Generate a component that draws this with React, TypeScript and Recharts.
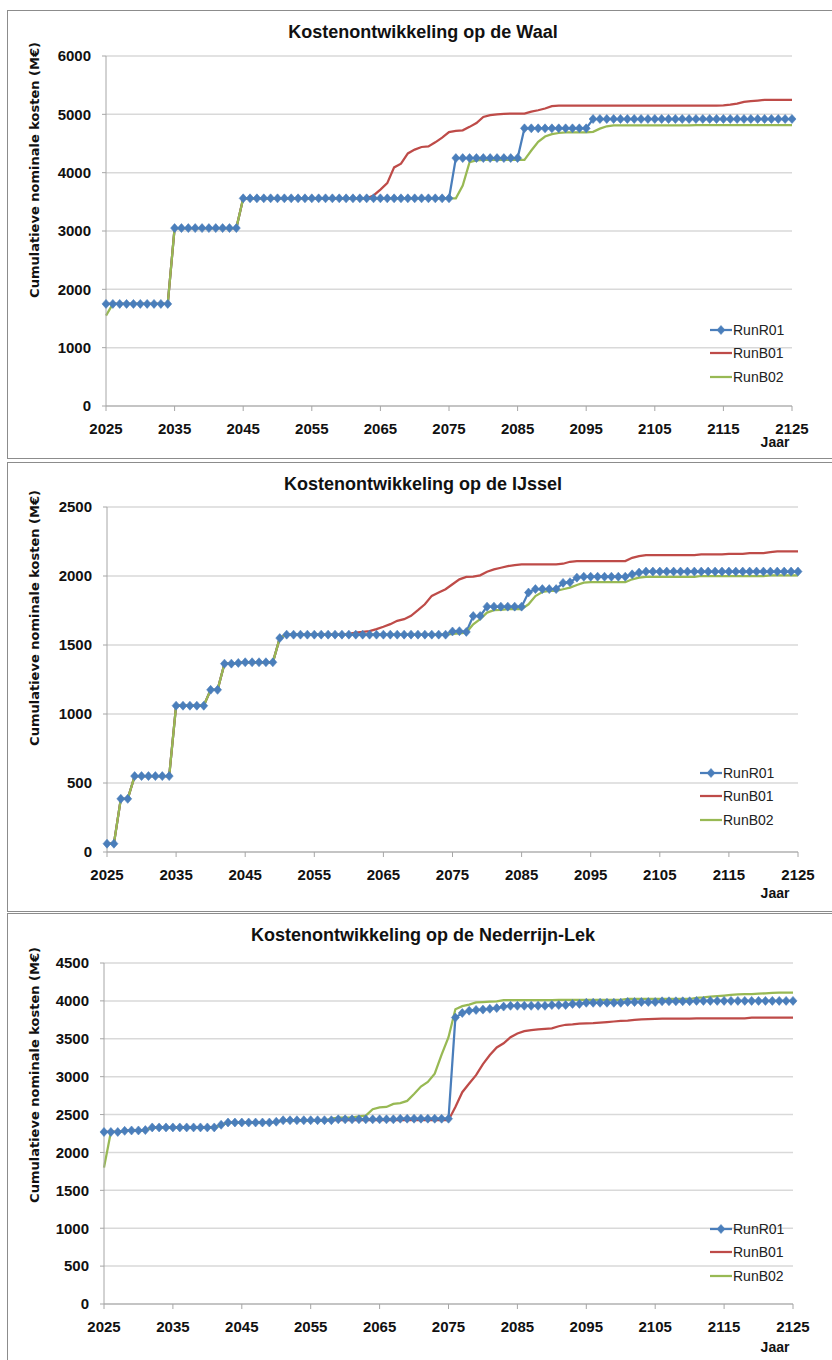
import React from "react";
import { LineChart, Line, XAxis, YAxis, CartesianGrid, Legend } from "recharts";

// jaren 2025 t/m 2125
const years = [
  2025, 2026, 2027, 2028, 2029, 2030, 2031, 2032, 2033, 2034,
  2035, 2036, 2037, 2038, 2039, 2040, 2041, 2042, 2043, 2044,
  2045, 2046, 2047, 2048, 2049, 2050, 2051, 2052, 2053, 2054,
  2055, 2056, 2057, 2058, 2059, 2060, 2061, 2062, 2063, 2064,
  2065, 2066, 2067, 2068, 2069, 2070, 2071, 2072, 2073, 2074,
  2075, 2076, 2077, 2078, 2079, 2080, 2081, 2082, 2083, 2084,
  2085, 2086, 2087, 2088, 2089, 2090, 2091, 2092, 2093, 2094,
  2095, 2096, 2097, 2098, 2099, 2100, 2101, 2102, 2103, 2104,
  2105, 2106, 2107, 2108, 2109, 2110, 2111, 2112, 2113, 2114,
  2115, 2116, 2117, 2118, 2119, 2120, 2121, 2122, 2123, 2124,
  2125,
];
const xTicks = [2025, 2035, 2045, 2055, 2065, 2075, 2085, 2095, 2105, 2115, 2125];

const waalTicks = [0, 1000, 2000, 3000, 4000, 5000, 6000];
const ijsselTicks = [0, 500, 1000, 1500, 2000, 2500];
const lekTicks = [0, 500, 1000, 1500, 2000, 2500, 3000, 3500, 4000, 4500];

// Waal
const waalR01 = [
  1750, 1750, 1750, 1750, 1750, 1750, 1750, 1750, 1750, 1750,
  3050, 3050, 3050, 3050, 3050, 3050, 3050, 3050, 3050, 3050,
  3560, 3560, 3560, 3560, 3560, 3560, 3560, 3560, 3560, 3560,
  3560, 3560, 3560, 3560, 3560, 3560, 3560, 3560, 3560, 3560,
  3560, 3560, 3560, 3560, 3560, 3560, 3560, 3560, 3560, 3560,
  3560, 4250, 4250, 4250, 4250, 4250, 4250, 4250, 4250, 4250,
  4250, 4760, 4760, 4760, 4760, 4760, 4760, 4760, 4760, 4760,
  4760, 4920, 4920, 4920, 4920, 4920, 4920, 4920, 4920, 4920,
  4920, 4920, 4920, 4920, 4920, 4920, 4920, 4920, 4920, 4920,
  4920, 4920, 4920, 4920, 4920, 4920, 4920, 4920, 4920, 4920,
  4920,
];
const waalB01 = [
  1750, 1750, 1750, 1750, 1750, 1750, 1750, 1750, 1750, 1750,
  3050, 3050, 3050, 3050, 3050, 3050, 3050, 3050, 3050, 3050,
  3560, 3560, 3560, 3560, 3560, 3560, 3560, 3560, 3560, 3560,
  3560, 3560, 3560, 3560, 3560, 3560, 3560, 3560, 3560, 3610,
  3710, 3820, 4090, 4155, 4330, 4395, 4440, 4450, 4520, 4600,
  4695, 4715, 4725, 4785, 4850, 4955, 4985, 5000, 5008, 5012,
  5012, 5012, 5045, 5070, 5100, 5140, 5150, 5150, 5150, 5150,
  5150, 5150, 5150, 5150, 5150, 5150, 5150, 5150, 5150, 5150,
  5150, 5150, 5150, 5150, 5150, 5150, 5150, 5150, 5150, 5150,
  5155, 5165, 5185, 5215, 5225, 5237, 5248, 5248, 5248, 5248,
  5248,
];
const waalB02 = [
  1550, 1750, 1750, 1750, 1750, 1750, 1750, 1750, 1750, 1750,
  3050, 3050, 3050, 3050, 3050, 3050, 3050, 3050, 3050, 3050,
  3560, 3560, 3560, 3560, 3560, 3560, 3560, 3560, 3560, 3560,
  3560, 3560, 3560, 3560, 3560, 3560, 3560, 3560, 3560, 3560,
  3560, 3560, 3560, 3560, 3560, 3560, 3560, 3560, 3560, 3560,
  3560, 3560, 3780, 4180, 4210, 4220, 4220, 4220, 4220, 4220,
  4220, 4220, 4380, 4530, 4620, 4660, 4680, 4690, 4690, 4690,
  4690, 4700, 4755, 4795, 4810, 4810, 4810, 4810, 4810, 4810,
  4810, 4810, 4810, 4810, 4810, 4810, 4815, 4815, 4815, 4815,
  4815, 4815, 4815, 4815, 4815, 4815, 4815, 4815, 4815, 4815,
  4815,
];

// IJssel
const ijsselR01 = [
  60, 60, 385, 385, 550, 550, 550, 550, 550, 550,
  1060, 1060, 1060, 1060, 1060, 1175, 1175, 1365, 1365, 1370,
  1375, 1375, 1375, 1375, 1375, 1550, 1575, 1575, 1575, 1575,
  1575, 1575, 1575, 1575, 1575, 1575, 1575, 1575, 1575, 1575,
  1575, 1575, 1575, 1575, 1575, 1575, 1575, 1575, 1575, 1575,
  1598, 1600, 1595, 1710, 1710, 1778, 1778, 1778, 1778, 1778,
  1778, 1880, 1905, 1905, 1905, 1905, 1950, 1955, 1988, 1995,
  1995, 1995, 1995, 1995, 1995, 1995, 2012, 2025, 2032, 2032,
  2032, 2032, 2032, 2032, 2032, 2032, 2032, 2032, 2032, 2032,
  2032, 2032, 2032, 2032, 2032, 2032, 2032, 2032, 2032, 2032,
  2032,
];
const ijsselB01 = [
  60, 60, 385, 385, 550, 550, 550, 550, 550, 550,
  1060, 1060, 1060, 1060, 1060, 1175, 1175, 1365, 1365, 1370,
  1375, 1375, 1375, 1375, 1375, 1550, 1575, 1575, 1575, 1575,
  1575, 1575, 1575, 1575, 1575, 1580, 1590, 1595, 1600, 1615,
  1632, 1651, 1675, 1687, 1711, 1752, 1795, 1856, 1880, 1904,
  1940, 1976, 1993, 1995, 2005, 2031, 2048, 2060, 2072, 2079,
  2084, 2084, 2084, 2084, 2084, 2084, 2089, 2103, 2108, 2108,
  2108, 2108, 2108, 2108, 2108, 2108, 2132, 2144, 2152, 2152,
  2152, 2152, 2152, 2152, 2152, 2152, 2156, 2156, 2156, 2156,
  2161, 2161, 2161, 2166, 2166, 2166, 2173, 2178, 2178, 2178,
  2178,
];
const ijsselB02 = [
  60, 60, 385, 385, 550, 550, 550, 550, 550, 550,
  1060, 1060, 1060, 1060, 1060, 1175, 1175, 1365, 1365, 1370,
  1375, 1375, 1375, 1375, 1375, 1550, 1575, 1575, 1575, 1575,
  1575, 1575, 1575, 1575, 1575, 1575, 1575, 1575, 1575, 1575,
  1575, 1575, 1575, 1575, 1575, 1575, 1575, 1575, 1575, 1575,
  1580, 1585, 1590, 1650, 1688, 1735, 1752, 1755, 1760, 1760,
  1760, 1795, 1855, 1884, 1892, 1893, 1904, 1916, 1935, 1952,
  1955, 1955, 1955, 1955, 1955, 1955, 1976, 1988, 1993, 1993,
  1993, 1993, 1993, 1993, 1993, 1993, 2000, 2000, 2000, 2000,
  2000, 2000, 2000, 2000, 2000, 2000, 2005, 2005, 2005, 2005,
  2005,
];

// Nederrijn-Lek
const lekR01 = [
  2270, 2270, 2270, 2285, 2290, 2290, 2295, 2330, 2330, 2330,
  2330, 2330, 2330, 2330, 2330, 2330, 2330, 2365, 2395, 2395,
  2395, 2395, 2395, 2395, 2395, 2405, 2425, 2425, 2425, 2425,
  2425, 2425, 2425, 2425, 2437, 2437, 2437, 2437, 2437, 2437,
  2437, 2437, 2437, 2445, 2445, 2445, 2445, 2445, 2445, 2445,
  2445, 3780, 3840, 3870, 3880, 3885, 3895, 3905, 3925, 3935,
  3935, 3935, 3935, 3935, 3935, 3945, 3945, 3945, 3960, 3960,
  3975, 3975, 3975, 3975, 3975, 3975, 3985, 3985, 3985, 3985,
  3985, 3995, 3995, 3995, 3995, 3995, 4000, 4000, 4000, 4000,
  4000, 4000, 4000, 4000, 4000, 4000, 4000, 4000, 4000, 4000,
  4000,
];
const lekB01 = [
  2270, 2270, 2270, 2285, 2290, 2290, 2295, 2330, 2330, 2330,
  2330, 2330, 2330, 2330, 2330, 2330, 2330, 2365, 2395, 2395,
  2395, 2395, 2395, 2395, 2395, 2405, 2420, 2420, 2420, 2420,
  2420, 2420, 2420, 2425, 2425, 2425, 2425, 2425, 2425, 2425,
  2425, 2425, 2425, 2425, 2425, 2425, 2425, 2425, 2425, 2425,
  2425, 2600, 2795, 2910, 3020, 3165, 3285, 3385, 3440, 3520,
  3570, 3600, 3615, 3625, 3632, 3638, 3665, 3685, 3690, 3700,
  3702, 3705, 3712, 3720, 3728, 3735, 3740, 3748, 3755, 3758,
  3762, 3766, 3766, 3766, 3766, 3766, 3770, 3770, 3770, 3770,
  3770, 3770, 3770, 3770, 3778, 3778, 3778, 3778, 3778, 3778,
  3778,
];
const lekB02 = [
  1800, 2270, 2270, 2280, 2290, 2290, 2290, 2325, 2325, 2325,
  2325, 2325, 2325, 2325, 2325, 2325, 2325, 2360, 2390, 2390,
  2390, 2390, 2390, 2390, 2390, 2405, 2420, 2420, 2420, 2420,
  2420, 2420, 2420, 2445, 2460, 2460, 2460, 2475, 2485, 2570,
  2595, 2600, 2640, 2650, 2680, 2770, 2870, 2930, 3040, 3290,
  3520, 3890, 3930, 3950, 3980, 3985, 3990, 3995, 4010, 4010,
  4010, 4010, 4010, 4010, 4010, 4010, 4015, 4015, 4015, 4015,
  4015, 4015, 4015, 4015, 4015, 4015, 4025, 4025, 4025, 4025,
  4025, 4025, 4025, 4025, 4025, 4025, 4040, 4045, 4055, 4062,
  4070, 4078, 4085, 4088, 4090, 4095, 4100, 4105, 4110, 4110,
  4110,
];

const BLUE = "#4a7ebb";
const RED = "#be4b48";
const GREEN = "#98b954";
const AXIS = "#a6a6a6";
const GRID = "#d9d9d9";
const FONT = "'Liberation Sans', Arial, sans-serif";

const seriesInfo = [
  { key: "r01", name: "RunR01", color: BLUE, marker: true },
  { key: "b01", name: "RunB01", color: RED, marker: false },
  { key: "b02", name: "RunB02", color: GREEN, marker: false },
];

const makeRows = (r01: number[], b01: number[], b02: number[]) =>
  years.map((year, i) => ({ year, r01: r01[i], b01: b01[i], b02: b02[i] }));

const Diamond = ({ cx, cy, color }: { cx: number; cy: number; color: string }) => (
  <polygon
    points={`${cx},${cy - 4.5} ${cx + 4},${cy} ${cx},${cy + 4.5} ${cx - 4},${cy}`}
    fill={color}
    stroke={color}
    strokeWidth={0.6}
  />
);

const renderLegend = () => (
  <div style={{ fontFamily: FONT, fontSize: 14, color: "#222" }}>
    {seriesInfo.map((s) => (
      <div key={s.key} style={{ display: "flex", alignItems: "center", height: 23.5 }}>
        <svg width={22} height={12}>
          <line x1={0} y1={6} x2={22} y2={6} stroke={s.color} strokeWidth={2.25} />
          {s.marker && <Diamond cx={11} cy={6} color={s.color} />}
        </svg>
        <span style={{ marginLeft: 1 }}>{s.name}</span>
      </div>
    ))}
  </div>
);

type PanelProps = {
  title: string;
  rows: { year: number; r01: number; b01: number; b02: number }[];
  yTicks: number[];
  top: number;
  height: number;
  plotLeft: number;
  plotRight: number;
  plotTop: number;
  plotBottom: number;
  titleY: number;
  yLabelY: number;
  legendX: number;
  legendY: number;
  jaarY: number;
};

function Panel(p: PanelProps) {
  const W = 832;
  const xAxisH = 30;
  const yAxisW = 60;
  const margin = {
    top: p.plotTop - p.top,
    bottom: p.top + p.height - p.plotBottom - xAxisH,
    left: p.plotLeft - yAxisW,
    right: W - p.plotRight,
  };
  const yMax = p.yTicks[p.yTicks.length - 1];

  return (
    <div style={{ position: "absolute", left: 0, top: p.top, width: W, height: p.height }}>
      <div
        style={{
          position: "absolute",
          left: 7,
          top: 0,
          width: 840,
          height: p.height,
          boxSizing: "border-box",
          border: "1.5px solid #8c8c8c",
        }}
      />
      <LineChart width={W} height={p.height} data={p.rows} margin={margin}>
        <CartesianGrid vertical={false} stroke={GRID} strokeWidth={1.5} />
        <XAxis
          dataKey="year"
          type="number"
          domain={[2025, 2125]}
          ticks={xTicks}
          height={xAxisH}
          stroke={AXIS}
          tickSize={5}
          tickMargin={12}
          tick={{ fill: "#111", fontFamily: FONT, fontSize: 15, fontWeight: "bold" }}
          interval={0}
        />
        <YAxis
          domain={[0, yMax]}
          ticks={p.yTicks}
          width={yAxisW}
          stroke={AXIS}
          tickSize={4}
          tickMargin={11}
          tick={{ fill: "#111", fontFamily: FONT, fontSize: 15, fontWeight: "bold" }}
          interval={0}
        />
        <Legend
          layout="vertical"
          align="center"
          verticalAlign="middle"
          content={renderLegend}
          wrapperStyle={{ left: p.legendX, top: p.legendY - p.top - 12, width: 90, height: 72 }}
        />
        <Line
          dataKey="r01"
          name="RunR01"
          stroke={BLUE}
          strokeWidth={2.25}
          isAnimationActive={false}
          activeDot={false}
          dot={(props: any) => <Diamond key={props.index} cx={props.cx} cy={props.cy} color={BLUE} />}
        />
        <Line
          dataKey="b01"
          name="RunB01"
          stroke={RED}
          strokeWidth={2.25}
          dot={false}
          activeDot={false}
          isAnimationActive={false}
        />
        <Line
          dataKey="b02"
          name="RunB02"
          stroke={GREEN}
          strokeWidth={2.25}
          dot={false}
          activeDot={false}
          isAnimationActive={false}
        />
      </LineChart>
      <div
        style={{
          position: "absolute",
          left: 0,
          width: 846,
          top: p.titleY - p.top - 11,
          textAlign: "center",
          fontFamily: FONT,
          fontSize: 18,
          fontWeight: "bold",
          lineHeight: "22px",
          color: "#111",
        }}
      >
        {p.title}
      </div>
      <div
        style={{
          position: "absolute",
          left: 34,
          top: p.yLabelY - p.top,
          transform: "translate(-50%, -50%) rotate(-90deg)",
          whiteSpace: "nowrap",
          fontFamily: "'DejaVu Sans', sans-serif",
          fontSize: 13,
          fontWeight: "bold",
          color: "#111",
        }}
      >
        Cumulatieve nominale kosten (M€)
      </div>
      <div
        style={{
          position: "absolute",
          left: 775,
          top: p.jaarY - p.top,
          transform: "translate(-50%, -50%)",
          fontFamily: FONT,
          fontSize: 14,
          fontWeight: "bold",
          color: "#111",
        }}
      >
        Jaar
      </div>
    </div>
  );
}

export default function App() {
  return (
    <div
      style={{
        position: "absolute",
        left: 0,
        top: 0,
        width: 832,
        height: 1360,
        overflow: "hidden",
        background: "#fff",
      }}
    >
      <Panel
        title="Kostenontwikkeling op de Waal"
        rows={makeRows(waalR01, waalB01, waalB02)}
        yTicks={waalTicks}
        top={10}
        height={449}
        plotLeft={106}
        plotRight={792}
        plotTop={56}
        plotBottom={406}
        titleY={32}
        yLabelY={170}
        legendX={710}
        legendY={330}
        jaarY={442}
      />
      <Panel
        title="Kostenontwikkeling op de IJssel"
        rows={makeRows(ijsselR01, ijsselB01, ijsselB02)}
        yTicks={ijsselTicks}
        top={462}
        height={450}
        plotLeft={107}
        plotRight={798}
        plotTop={507}
        plotBottom={852}
        titleY={484}
        yLabelY={618}
        legendX={700}
        legendY={773}
        jaarY={893}
      />
      <Panel
        title="Kostenontwikkeling op de Nederrijn-Lek"
        rows={makeRows(lekR01, lekB01, lekB02)}
        yTicks={lekTicks}
        top={913}
        height={460}
        plotLeft={104}
        plotRight={793}
        plotTop={963}
        plotBottom={1304}
        titleY={935}
        yLabelY={1075}
        legendX={710}
        legendY={1229}
        jaarY={1347}
      />
    </div>
  );
}
